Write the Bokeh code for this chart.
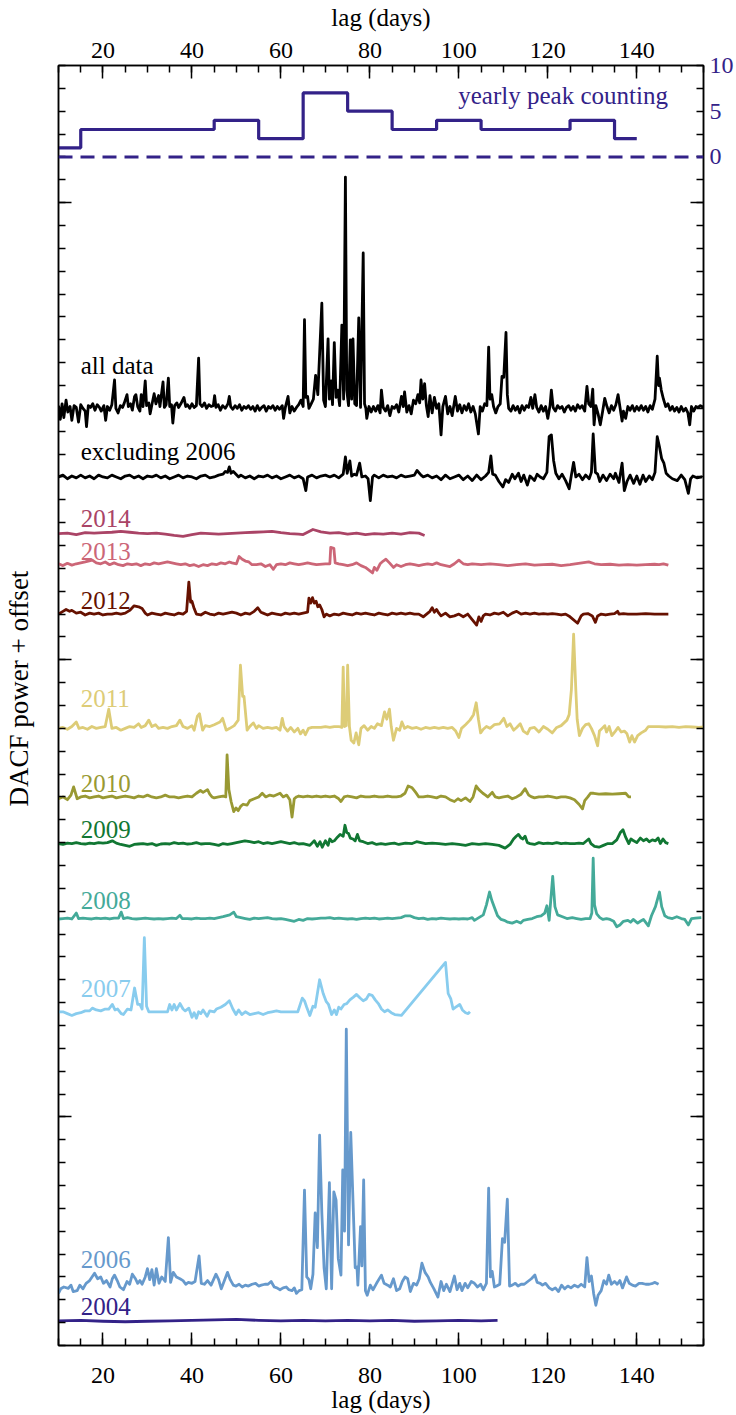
import math
from bokeh.plotting import figure
from bokeh.models import Range1d, LinearAxis, FixedTicker, Label, Span
from bokeh.embed import file_html
from bokeh.resources import INLINE

FONT = "Liberation Serif"

# ---------------- data ----------------
# yearly peak counting (bin centre lag, count)
peak_lag = [10, 20, 30, 40, 50, 60, 70, 80, 90, 100, 110, 120, 130, 140]
peak_cnt = [1, 3, 3, 3, 4, 2, 7, 5, 3, 4, 3, 3, 4, 2]

# DACF curves: (lag, power) in plot units
all_data = [(10,0.3),(10.4,-1.2),(10.8,0.5),(11.2,-1.0),(11.7,0.9),(12.1,-0.4),(12.6,0.2),(13,-1.3),(13.5,0.3),(14,0.1),(14.5,-1.5),(15,0.4),(15.5,0),(16,-0.3),(16.3,-2.0),(16.7,0.3),(17.2,0.1),(17.7,0.5),(18.2,-0.2),(18.7,0.4),(19.2,0.1),(19.6,-0.3),(20.2,0.3),(20.6,-1.3),(21,0.2),(21.5,-0.2),(22,0.4),(22.6,3.1),(22.9,0),(23.4,-0.5),(23.9,0.3),(24.4,0.1),(24.8,0.6),(25.4,1.5),(25.7,0.2),(26.2,0.5),(26.6,-0.2),(27.1,1.3),(27.4,1.5),(27.8,0.2),(28.3,-0.3),(28.6,1.5),(29,0.2),(29.5,3.0),(29.8,0.3),(30.3,0.6),(30.6,-0.6),(31,0.4),(31.5,1.6),(31.9,0.5),(32.5,1.4),(32.8,0.2),(33.5,2.9),(33.8,0.1),(34.2,0.4),(34.7,3.3),(35,0.2),(35.4,0.4),(35.7,-1.6),(36.1,0.3),(36.6,0.6),(37,0.1),(37.5,0.5),(38.2,1.2),(38.6,0.2),(39,0.4),(39.5,0),(40,0.5),(40.5,0.1),(41,0.3),(41.5,5.5),(41.8,0.5),(42.3,0.2),(42.8,0.6),(43.3,0),(43.8,0.4),(44.3,0.2),(44.8,0.3),(45.1,1.4),(45.4,0.1),(45.9,0.4),(46.4,-0.2),(46.9,0.3),(47.5,0),(48.1,0.5),(48.4,1.3),(48.7,0.2),(49.2,-0.1),(49.7,0.3),(50.2,0),(50.7,0.4),(51.2,-0.2),(51.7,0.2),(52.2,0),(52.7,0.3),(53.2,-0.1),(53.7,0.2),(54.2,-0.3),(54.7,0.3),(55.2,-0.2),(55.7,0.1),(56.2,0.3),(56.7,-0.3),(57.2,0.2),(57.7,0),(58.2,0.3),(58.7,-0.2),(59.2,0.2),(59.7,-0.1),(60.3,0.3),(60.6,-1.1),(61,0.1),(61.6,1.3),(62,-0.5),(62.5,0.2),(63,-0.3),(63.5,0.1),(64,0.4),(64.5,0.9),(65,0.2),(65.3,9.7),(65.6,1.2),(66,1.3),(66.3,0),(66.8,0.5),(67.3,1.0),(67.8,3.6),(68.3,1.5),(69.2,11.5),(69.6,0.9),(70,0.2),(70.6,7.6),(70.9,1.0),(71.3,3.0),(71.6,0.4),(72,7.2),(72.4,1.2),(72.8,2.0),(73.2,0.3),(73.7,9.1),(74.1,1.0),(74.5,25.3),(74.8,2.0),(75.2,0.3),(75.6,7.5),(75.9,1.0),(76.2,7.6),(76.6,0.5),(77,0.3),(77.5,9.9),(77.9,0.1),(78.5,17),(78.8,0.5),(79.1,0),(79.3,-1.1),(79.8,0.2),(80.3,-0.4),(80.8,0.2),(81.3,-0.3),(81.8,0.3),(82.3,-0.5),(82.6,2.0),(83,0.1),(83.5,-0.3),(84,0.3),(84.5,-0.8),(85,0.2),(85.5,0),(86,0.4),(86.5,-0.4),(87.1,1.3),(87.5,0.2),(87.8,1.8),(88.3,-0.4),(88.8,0.3),(89.3,-0.6),(89.8,0.9),(90.3,0.5),(90.8,1.5),(91.2,0.6),(91.5,3.1),(91.9,1.0),(92.3,2.7),(92.7,0.3),(93.1,-0.9),(93.5,1.4),(94,-0.5),(94.5,1.2),(95,0),(95.5,0.5),(96,-2.9),(96.4,0.2),(97,1.3),(97.5,-0.6),(98,0.2),(98.5,-0.8),(99.2,1.3),(99.7,-0.3),(100.2,0.4),(100.7,-0.5),(101.2,0.3),(101.7,-0.2),(102.2,0.5),(102.7,-0.4),(103.2,0.2),(103.7,-0.6),(104.4,-2.8),(104.8,0.2),(105.3,-0.3),(105.8,0.5),(106.3,0.3),(106.7,6.7),(107,1.0),(107.4,1.5),(107.8,0.2),(108.3,-0.5),(108.8,0.2),(109.3,0.5),(109.7,3.5),(110.1,3.4),(110.6,8.3),(110.9,1.5),(111.2,0),(111.7,-0.3),(112.2,0.3),(112.7,-0.2),(113.2,0.2),(113.7,-0.5),(114.2,0.3),(114.7,-0.2),(115.2,0.3),(115.7,0.1),(116.2,1.2),(116.6,0),(117.1,1.5),(117.5,0.1),(118,-0.4),(118.5,0.3),(119,-0.3),(119.5,0.2),(120,-1.1),(120.5,0.3),(120.8,2.0),(121.2,0.1),(121.7,-0.3),(122.2,0.3),(122.7,0),(123.2,0.2),(123.7,-0.4),(124.2,0.1),(124.7,0.3),(125.2,-0.2),(125.7,0.2),(126.2,-0.3),(126.7,0.4),(127.2,0),(127.7,0.3),(128.3,-0.3),(128.8,2.4),(129.2,0.5),(129.7,0.2),(130.1,2.1),(130.4,-1.8),(130.8,0.3),(131.3,-0.6),(131.8,-1.8),(132.3,-0.4),(132.8,1.1),(133.3,0.2),(133.8,-0.5),(134.3,0.3),(134.8,-0.2),(135.3,0.4),(135.8,1.5),(136.2,0.2),(136.7,-1.4),(137,-0.3),(137.5,-1.1),(138,0.2),(138.5,-0.2),(139,0.3),(139.5,-0.3),(140,0.2),(140.5,-0.2),(141,0.3),(141.5,-0.2),(142,0.2),(142.5,-0.4),(143,0.3),(143.5,-0.1),(144.1,1.0),(144.6,5.7),(144.9,2.5),(145.1,3.3),(145.5,2.0),(146,1.0),(146.5,0.2),(147,0.5),(147.5,-0.2),(148,0.2),(148.5,-0.3),(149,0.1),(149.5,-0.4),(150,0.2),(150.5,-0.3),(151,0),(151.5,-0.5),(151.9,-1.8),(152.3,0.2),(152.8,-0.3),(153.3,0.2),(153.8,0.1),(154.3,0.3),(155,0.1)]

excl_2006 = [(10,0),(11,0.2),(12,-0.2),(13,0.1),(14,-0.1),(15,0.2),(16,-0.1),(17,0.1),(18,-0.2),(19,0.2),(20,0),(21,-0.1),(22,0.2),(23,0),(24,-0.2),(25,0.1),(26,0.2),(27,-0.1),(28,0.1),(29,-0.2),(30,0.1),(31,0),(32,0.2),(33,-0.1),(34,0.1),(35,-0.2),(36,0),(37,0.2),(38,-0.1),(39,0.1),(40,0),(41,-0.2),(42,0.1),(43,0.2),(44,-0.1),(45,0),(46,0.2),(47,0.3),(47.5,0.6),(48,0.5),(48.4,1.1),(48.8,0.4),(49.3,0.6),(49.9,0.3),(50.5,0),(51,0.2),(52,-0.1),(53,0.1),(54,-0.2),(55,0.1),(56,0),(57,0.2),(58,-0.1),(59,0.1),(60,-0.2),(61,0),(62,0.2),(63,-0.1),(64,0.1),(65,-0.2),(65.6,-1.5),(66,0),(67,0.2),(68,-0.1),(69,0.1),(70,0.2),(71,0),(72,0.2),(73,-0.1),(74,0.3),(74.5,2.2),(74.9,0.4),(75.5,1.75),(75.9,0.1),(76.5,0.3),(77,0.2),(77.7,1.5),(78.2,0),(79,0.1),(79.6,-0.2),(80.1,-2.6),(80.6,0),(81,0.2),(82,-0.1),(83,0.2),(84,0),(85,0.1),(86,-0.1),(87,0.2),(88,0),(89,0.1),(90,0.2),(90.6,0.7),(91.5,0.2),(92,0),(93,0.2),(94,-0.1),(95,0.1),(96,-0.3),(97,0.2),(98,-0.2),(99,0),(100,0.2),(101,-0.3),(102,0.1),(103,-0.4),(104,0.2),(105,-0.3),(106,0.1),(106.7,0.5),(107.2,2.3),(107.6,0.3),(108.2,0.2),(109,-0.5),(109.9,-1.1),(110.5,-0.3),(111.2,-0.6),(112,0.3),(112.6,-0.2),(113.4,0.4),(114,-0.5),(114.6,0.2),(115.4,-0.9),(116,0.1),(117,-0.4),(117.6,0.3),(118.3,0),(119,-0.2),(119.8,0.5),(120.3,4.4),(120.8,4.6),(121.3,1.8),(121.8,0.4),(122.5,-0.2),(123.2,0.3),(124,-0.4),(124.8,-1.3),(125.3,0.2),(125.8,1.6),(126.3,0),(127,0.3),(127.8,-0.3),(128.5,0.2),(129.3,-0.2),(129.8,0.5),(130.2,4.7),(130.7,0.5),(131.2,0.3),(131.7,-0.5),(132.4,0.2),(133.2,-0.4),(134,0.3),(134.8,-0.2),(135.2,0.4),(136,-0.6),(136.7,1.5),(137.2,-1.5),(137.8,-0.5),(138.5,0.2),(139.3,-0.7),(140,0.1),(140.7,-0.8),(141.4,0.2),(142,-0.5),(142.8,0.1),(143.5,-0.3),(144.1,0.5),(144.6,4.4),(145.1,3.3),(145.6,2.0),(146.1,1.5),(146.6,0.4),(147.2,0.1),(148,-0.2),(149.1,-0.4),(150,0.2),(150.8,-0.3),(151.6,-1.8),(152.1,-0.2),(152.6,0.1),(153.5,-0.1),(154.7,0)]

y2014 = [(10,0),(12,0.05),(14,-0.1),(16,0.1),(18,0.05),(20,0.1),(22,0.15),(24,0.25),(26,0.15),(28,0.05),(30,0),(32,0.05),(34,-0.05),(36,-0.2),(38,-0.3),(40,-0.1),(42,0.05),(44,0),(46,-0.05),(48,0),(50,0.05),(52,0.1),(54,0.15),(56,0.2),(58,0.25),(60,0.1),(62,0.0),(64,-0.05),(65,-0.1),(67.2,0.45),(69,0.2),(71,0.05),(73,0.1),(75,-0.05),(77,0.05),(79,-0.1),(81,0),(83,-0.05),(85,0.05),(87,-0.05),(89,0.1),(91,0.05),(92.3,-0.2)]

y2013 = [(10,0.1),(11,-0.1),(12,0.15),(13,-0.05),(14,0.1),(15,0.2),(16,0.3),(17.6,0.5),(18.5,0.2),(19.5,0.1),(20.5,0.3),(21.5,0),(22.5,0.2),(23.5,0),(24.5,-0.1),(25.5,0.1),(26.5,0),(27.5,0.1),(28.5,-0.1),(29.5,0.1),(30.5,0),(31.5,0.2),(32.5,0.1),(34.5,0.3),(35.5,0.2),(36.5,0.1),(37.5,0),(38.5,0.1),(39.5,-0.1),(40.5,0),(41.5,-0.2),(42.5,0),(43.5,-0.1),(44.5,0.1),(45.5,0),(46.5,0.2),(47.5,0.1),(48.4,0.3),(49,0.2),(50,0.1),(50.6,0.9),(51.3,0.6),(52,0.4),(52.8,0.3),(53.5,0),(54.5,0),(55.5,0.1),(56.5,-0.2),(57.5,0),(58.3,-0.5),(59,0),(60,0.1),(61,0),(62,0.2),(63,0.1),(64,0),(65,0.1),(66,0.2),(67,0.1),(68,0),(70,0.1),(71,0.1),(71.2,1.9),(71.9,1.8),(72.2,0.2),(73,0.1),(74,0),(75,-0.1),(76,0),(77,0.2),(78,-0.1),(79,-0.3),(79.8,-0.6),(80.6,-0.9),(81,-0.3),(81.6,-0.6),(82.3,0.1),(83,0.4),(83.6,0.6),(84.4,0.2),(85.3,-0.3),(86,0),(87,-0.2),(88,0),(89,0.1),(90,0),(91,-0.1),(92,0),(93,0.1),(94,0),(95,0.2),(96,0),(97,-0.1),(98,-0.2),(99,0.1),(100,0.5),(100.5,0.3),(101,0.1),(102,0),(103,0.1),(105,0),(107,0.1),(109,0),(111,-0.1),(113,0),(115,0.1),(117,-0.05),(119,0),(121,0.05),(123,-0.1),(125,0),(129.2,0.3),(130.5,0.1),(132,0),(134,0.05),(136,-0.05),(138,0),(140,-0.05),(142,0),(144,0.05),(145,0),(146,0.1),(147.1,-0.05)]

y2012 = [(10,0),(11,0.3),(11.7,0.5),(12.5,0.3),(13,0.4),(14,0.1),(15,0.2),(16,-0.1),(17,0.1),(18,0),(19,0.1),(20,-0.1),(21,0),(22,0),(23,0.1),(24,0),(25,0.1),(26,0.4),(27,0.9),(28,0.8),(28.8,0.6),(29.5,0.1),(30,-0.1),(31,0.1),(32,0),(33,-0.1),(34,0.1),(35,0),(36,-0.1),(37,0.1),(38,0),(38.8,0.3),(39.3,3.5),(39.7,1.3),(40,1.4),(40.5,0.6),(41,0),(42,-0.1),(43,0.2),(44,0),(45,-0.1),(46,0.1),(47,0),(48,0.1),(49,0.2),(50,0.1),(51,-0.1),(52,0.1),(53,0),(54,0.3),(54.8,0.7),(55.5,0.2),(56,0.1),(57,-0.1),(58,0.1),(59,0),(60,-0.1),(61,0.1),(62,0),(63,0.1),(64,0),(65,0.1),(66,0.2),(66.3,1.75),(66.7,1.2),(67.1,1.8),(67.5,1.2),(67.9,1.4),(68.3,0.8),(68.7,1.0),(69.2,0.5),(69.7,-0.3),(70.2,0),(71,-0.2),(72,0),(73,-0.1),(74,0.1),(75,0),(76,-0.1),(77,0.1),(78,0),(79,0.1),(80,0),(81,-0.1),(82,0.1),(83,0),(84,-0.1),(85,0.1),(86,0),(87,0.1),(88,0),(89,0.1),(90,0),(91,0),(92,-0.3),(93.5,0.3),(94,0.7),(94.5,0.2),(95,0.5),(95.5,0.1),(96,-0.2),(97,0.1),(98,-0.3),(99,-0.2),(100,0),(101,-0.3),(102,0),(103,-0.6),(104,-1.2),(104.5,-0.3),(105,-0.8),(105.5,-0.2),(106,0),(107,-0.1),(108,0.1),(109,0),(110,0.2),(111,-0.2),(112,0.1),(113,0.3),(114,0),(115,0.1),(116,0),(117,0.1),(118,0),(119,0.05),(120,0),(121,0.05),(122,0),(123,-0.1),(124,0),(125,-0.3),(126.7,-1.0),(127.5,-0.2),(128,0),(129,0.05),(130,-0.2),(130.7,-0.9),(131.2,-0.2),(132,0),(133,-0.1),(134,0),(135,0.05),(135.7,0.3),(136,0),(137,0.05),(138,0),(140,0),(142,0.05),(144,0),(146,0),(147.1,0)]

y2011 = [(10,0),(11,0.1),(12,-0.1),(13,0.2),(14,0.7),(14.6,0),(15.5,0.1),(16.5,-0.1),(17.5,0.2),(18.5,0),(19.5,0.1),(20.5,0.2),(21.3,2.1),(22,0),(23,0.1),(24,-0.2),(25,0),(26,0.2),(27,0.1),(28,0.5),(28.6,0.1),(29.5,0.3),(30.3,0.9),(31,0.2),(31.8,0.4),(32.5,0),(33.5,0.1),(34.5,0),(35.5,0.2),(36.5,0.3),(37.3,0.9),(38,0.2),(39,0),(40,0.3),(40.5,-0.2),(41.2,1.3),(41.7,1.6),(42.4,-0.2),(43,0.3),(44,0.2),(45,0.4),(46.3,0.7),(46.9,1.1),(47.7,-0.2),(48.5,0),(49.5,0.3),(50.4,0.9),(50.9,6.9),(51.4,3.5),(51.7,3.5),(52.4,-0.2),(53,0.2),(53.8,0.6),(54.5,0),(55,0.3),(56,0),(57,0.1),(58,0),(59,0.1),(59.8,-0.2),(60.3,1.1),(60.7,0.2),(61.5,-0.3),(62.2,0.1),(63,-0.4),(63.8,0),(64.4,-0.6),(65,-0.2),(65.5,-0.7),(66.2,0),(67,0.1),(68,0.1),(69,0.1),(70,0.2),(71,0.1),(72,0.2),(73,0.2),(73.7,0.1),(74,6.7),(74.3,0.2),(74.7,0.3),(75,6.9),(75.4,0.2),(75.8,-1.3),(76.4,-1.6),(76.9,-0.5),(77.5,-1.8),(78,0),(78.7,0.3),(79.5,-0.2),(80.3,0.2),(81,0),(81.7,0.5),(82.6,0.3),(83.3,1.8),(83.8,1.0),(84.4,2.1),(84.8,0.2),(85.3,-1.3),(86,0),(86.7,-0.2),(87.2,0.7),(87.8,0),(88.5,0.2),(89.5,0),(90.5,0.1),(91.5,-0.1),(92.5,0.1),(93.5,0),(94.5,0.1),(95.5,0),(96.5,0.1),(97.5,0),(98.5,0.1),(99.3,-0.3),(100,-1.0),(100.6,0),(101.5,0.4),(102.5,0.9),(103.3,1.5),(103.9,2.8),(104.4,1.0),(104.9,-0.5),(105.5,-0.1),(106.2,0.2),(107,0),(108,0.4),(109.2,0.5),(110.1,1.1),(110.8,0.2),(111.5,0.5),(112.3,-0.2),(113,0.1),(113.8,0.5),(114.5,-0.3),(115.4,-0.6),(116,0),(117,0.1),(118,-0.4),(119,0.2),(120,-0.1),(121,-0.5),(122,0.1),(123,0.3),(124.3,0.9),(124.8,1.5),(125.3,4.2),(125.8,10.3),(126.3,4.2),(126.6,1.0),(127.1,-0.8),(127.8,0),(128.5,0.4),(129.2,0.5),(129.8,0),(130.5,-0.8),(131.2,-1.9),(131.6,-0.3),(132.2,0),(132.8,0.3),(133.2,-0.4),(133.8,0.2),(134.4,-0.8),(135.2,-0.3),(135.8,0.1),(136.5,-0.4),(137.2,-0.3),(137.8,-0.6),(138.4,-1.5),(138.9,-0.8),(139.5,-1.5),(140.2,-0.8),(141,-0.5),(142,-0.2),(142.6,0.2),(143.6,0.2),(145,0.2),(146.5,0.15),(148,0.2),(149.5,0.1),(151,0.2),(152.5,0.15),(154,0.1),(155,0.15)]

y2010 = [(10,-0.2),(11,0),(12,-0.3),(12.8,0.2),(13.4,1.1),(14.2,-0.2),(15,0),(16,0.1),(17,-0.1),(18,0),(19,0.1),(20,-0.1),(21,0),(22,0.1),(23,-0.1),(24,0),(25,0.1),(26,0),(27,-0.1),(28,0.1),(29,0),(30,0.2),(31,0),(32,-0.1),(33,0),(34,0.2),(35,0),(36,0),(37,-0.1),(38,0),(39,0.1),(40,0),(41,0.4),(41.9,0.7),(42.5,0.5),(43.5,0.8),(44,0.3),(44.5,0),(45,-0.1),(46,0),(47,0.1),(47.6,0),(47.9,4.6),(48.3,0.8),(48.8,-0.5),(49.4,-1.6),(49.9,-1.2),(50.4,-1.5),(51,-1.0),(51.5,-0.8),(52.4,-0.9),(53,-0.4),(54,-0.2),(55,0),(55.8,0.4),(56.6,0),(57.5,0.2),(58.4,0.1),(59.3,0.3),(59.8,0.4),(60.5,0),(61.3,0.2),(62,-0.3),(62.5,-2.2),(63,-0.2),(63.5,0),(64,0.1),(65,0),(66,0.1),(67,0),(68,0.1),(69,0),(70,0.1),(71,0),(72,0.1),(73,-0.2),(73.5,-0.5),(74.2,0),(75,0.1),(76,0),(77,-0.1),(78,0.1),(79,0),(80,0),(81,0.1),(82,0),(83,0),(84,0.1),(85,0),(86,0),(87,0.1),(87.9,0.4),(88.6,1.2),(89.5,1.0),(90.3,0.5),(91,0),(92,0),(93,0.1),(94,0),(95,-0.1),(96,0.1),(97,0),(98,-0.3),(99,-0.5),(99.8,-0.2),(100.5,-0.4),(101.5,-0.1),(102.5,-0.5),(103.2,0),(103.9,1.2),(104.5,0.8),(105.4,0.4),(106,0.2),(106.5,0),(107.5,0.5),(108.2,0),(109,-0.1),(110,0),(111,0.1),(112,-0.2),(113,0),(114,0.3),(114.9,0.9),(115.7,0.2),(116.4,0),(117,-0.1),(118,0),(119,0),(120,0.1),(121,0),(122,-0.1),(123,0),(124,0),(125,-0.1),(126,-0.3),(127,-0.8),(127.8,-1.3),(128.3,-0.4),(129,0),(129.6,0.4),(130.3,0.4),(131.5,0.3),(133,0.35),(134.5,0.3),(136,0.35),(137.5,0.4),(138.2,0),(138.7,0)]

y2009 = [(10,0),(11,-0.1),(12,0.05),(13,0),(14,0.1),(15,0),(16,-0.05),(17,0.05),(18,0),(19,0.1),(20,0.05),(21,0.1),(22.1,0.3),(23,0.05),(24,-0.1),(25,-0.2),(26,-0.3),(27,-0.1),(28,-0.05),(29,0),(30,-0.1),(31,0),(32,-0.2),(33,-0.05),(34,0),(35,-0.05),(36,0.1),(37,0),(38,0.05),(39,-0.05),(40,0),(41,0.1),(42,-0.05),(43,0),(44,0),(45,-0.1),(46,-0.2),(47,0),(48,-0.1),(49,0),(50,0.1),(51.9,0.3),(53,0.2),(54,0.1),(55,0.2),(56,0),(57,0.1),(58,0),(59,0.1),(60,0.2),(61,0.1),(62,0),(63,0.1),(64,-0.05),(65,0),(66.5,-0.2),(67.5,0.3),(68.2,-0.3),(68.8,0.2),(69.3,-0.4),(70,0.3),(70.6,-0.2),(71,0.5),(71.5,0.2),(72,0.3),(72.7,0.7),(73.3,1.0),(74,0.8),(74.4,2.0),(74.8,1.2),(75.2,1.1),(75.6,0.6),(76.2,0.5),(76.7,0.3),(77.2,1.0),(77.7,0.3),(78.5,0.2),(79.5,0),(80.5,0.1),(81.5,-0.1),(82.5,0),(83.5,-0.1),(84.5,0),(85.5,0.05),(86.5,-0.1),(88,0.05),(89.5,0),(90.5,0.2),(91.5,0.1),(92.5,0),(94,0.05),(95.5,0),(97,-0.1),(98.5,0),(100,-0.1),(101.5,-0.2),(103,0),(104.5,-0.1),(106,0),(107.5,-0.1),(109,-0.2),(110.4,-0.5),(111.5,-0.1),(112.3,0.5),(112.9,0.8),(113.4,1.0),(114,0.6),(114.4,0.5),(114.9,0.8),(115.4,0.1),(116,0),(117,-0.1),(118,0.1),(119,0),(120,0.05),(121,0),(122,0.1),(123,0),(124,0.05),(125,0),(126,0),(127,0.05),(128,0),(129.2,0.5),(129.7,0),(130.5,-0.3),(131.5,-0.4),(132.5,-0.2),(133.5,0),(134.5,0),(135.5,0.4),(136.3,1.2),(136.9,1.5),(137.5,0.7),(138.2,0),(138.7,0.5),(139.3,0.3),(140,0.1),(140.8,0.6),(141.5,0.3),(142.2,0.5),(142.8,0.2),(143.5,0.4),(144.2,0.3),(144.8,0.6),(145.3,0),(145.9,0.5),(146.5,0.1),(147.1,0)]

y2008 = [(10,-0.05),(11,0),(12,0.05),(13,-0.05),(14,0.6),(14.5,0),(15.5,0.05),(16.5,0),(17.5,-0.05),(18.5,0.05),(19.5,0),(20.5,0.05),(21.5,-0.05),(22.5,0.05),(23.5,0.05),(24.1,0.7),(24.6,0),(25.5,0.1),(26.5,0),(27.5,-0.05),(28.5,0),(29.5,0.05),(30.5,0),(31.5,-0.05),(32.5,0),(33.5,-0.05),(34.5,0),(35.5,0.05),(36.5,0),(37.3,0.35),(37.8,0),(39,0),(40,-0.05),(41,0.05),(42,0),(43,0),(44,0.05),(45,0),(46,0.1),(47,0.2),(48.5,0.4),(49.4,0.7),(50,0.2),(51,0.1),(52,0),(53,-0.1),(54,0.05),(55,0),(56,0.05),(57,0.1),(58,0),(59,-0.05),(60,0),(61,-0.1),(62,-0.2),(63,-0.3),(64,-0.1),(65,-0.2),(66,0),(67,-0.05),(68,0),(69,0.05),(70,0.05),(71,0.1),(72,0),(73,0.05),(74,0),(75,-0.05),(76,0),(77,-0.1),(78,0),(79,0.05),(80,0),(81,0.05),(82,-0.05),(83,0),(84,0.05),(85,0),(86,0.05),(87,0.1),(88,0.3),(89,0.3),(90,0.1),(91,0),(92,0.05),(93,-0.1),(94,0),(95,-0.05),(96,0.05),(97,0),(98,-0.05),(99,0),(100,-0.05),(101,0),(102,-0.05),(103,0.1),(103.5,-0.2),(104.5,0.1),(105.5,0.4),(106.2,1.5),(106.9,2.9),(107.4,2.0),(108,1.2),(108.7,0.3),(109.5,-0.1),(110.2,-0.2),(111,-0.4),(112,-0.5),(113,-0.3),(113.9,-0.5),(114.5,-0.2),(115.5,-0.1),(116.5,0),(117.5,0.2),(118.5,0.3),(119.3,0.6),(119.8,1.4),(120.3,-0.2),(120.7,2.2),(121.1,4.6),(121.6,1.3),(122.2,0.4),(123.3,0.2),(124.3,0),(125.5,0.1),(126.5,0),(127.5,-0.1),(128.5,0),(129.5,0),(129.9,0.6),(130.2,6.6),(130.5,1.5),(131,0.5),(131.7,0.1),(132.4,-0.1),(133.2,0),(134,-0.1),(134.8,-0.3),(135.5,-0.9),(136.2,-0.7),(137,-0.3),(138,-0.2),(138.6,-0.4),(139.2,-0.1),(140.2,-0.5),(140.8,-0.3),(141.5,-0.1),(142.6,-0.8),(143.3,0.3),(144.2,1.3),(145.1,2.9),(145.6,1.3),(146.3,0.3),(147,0.1),(148,0),(149,0.2),(150,0),(150.8,-0.1),(151.6,-0.7),(152.3,0),(153.2,0.05),(154.5,0.1)]

y2007 = [(10,0),(11,0),(12,-0.2),(13,-0.4),(14,-0.2),(15,-0.1),(16,0.1),(17,0.1),(17.6,0.4),(18.5,0.2),(19.5,0.1),(20.5,0.3),(21.3,0.3),(22.1,0.8),(22.7,0.2),(23.3,0.3),(24.1,-0.2),(24.6,-0.3),(25.5,0.3),(26.3,0.2),(27.1,2.6),(27.8,0.8),(28.3,0.8),(28.8,0.3),(29.3,8.1),(29.8,0.6),(30.3,0),(31,0),(32,0),(33,0),(34,0),(34.5,0),(35,0.8),(35.5,0.2),(36,0.8),(36.5,0.2),(37.3,0.9),(38,0.3),(38.5,0.1),(39.3,0.4),(40,-0.6),(40.5,-0.1),(41,-0.7),(41.5,0),(42,-0.2),(42.5,0.2),(43.4,-0.5),(44,0.1),(45,0),(45.5,0.3),(46.5,0.5),(47.5,0.8),(48.4,1.2),(49.2,0.3),(49.9,-0.3),(50.5,0.2),(51.2,-0.3),(52,0),(53,-0.3),(54,-0.2),(55,-0.1),(56,-0.3),(57,-0.1),(58,0),(59,0.1),(60,0),(61,0),(62,0),(63,0),(63.8,0),(64.8,1.5),(65.3,1.2),(65.8,0.5),(66.5,-0.4),(67.2,0.6),(67.7,0.5),(68.7,3.5),(69.5,2.0),(70.2,1.1),(70.7,0.8),(71.4,-0.3),(72,0.2),(72.5,-0.3),(73,0.5),(73.5,0.3),(74.2,0.8),(74.8,0.9),(75.5,1.3),(76.3,1.6),(77,1.9),(77.8,1.5),(78.5,1.2),(79.2,1.4),(79.8,1.9),(80.5,1.8),(81.2,1.3),(81.9,0.9),(82.6,0.3),(83.3,0),(84,0.2),(84.8,-0.1),(85.6,-0.3),(87.1,-0.4),(97,5.4),(97.6,2.0),(98.2,1.4),(98.7,0.3),(99.3,0.5),(100.2,0.8),(100.8,0.2),(101.5,-0.1),(102.1,-0.2),(102.5,0)]

y2006 = [(10,-0.8),(10.5,-0.3),(11.2,-0.1),(12.2,-0.25),(12.8,0.1),(13.3,-0.6),(14.2,-0.5),(14.8,0.1),(15.5,-0.3),(16.2,0.3),(17,0.6),(18.1,1.4),(18.8,0.8),(19.5,1.0),(20.1,0.3),(20.8,0.6),(21.6,-0.1),(22.1,0.8),(22.6,1.2),(23.2,0.6),(23.8,-0.1),(24.6,-0.4),(25.4,0.5),(26,0.2),(26.6,1.3),(27.3,0.8),(27.8,0.3),(28.3,0.6),(28.8,0.2),(29.5,1.0),(30,1.9),(30.5,0.7),(31,1.8),(31.5,0.1),(32,1.9),(32.6,0.3),(33.2,1.0),(34,0.5),(34.7,5.3),(35.2,0.4),(35.8,1.5),(36.5,1.0),(37.3,0.8),(38,0.6),(38.6,0.2),(39.2,0.4),(40,0.3),(40.7,0.5),(41.6,3.3),(42.1,0.3),(42.8,0.2),(43.5,0.6),(44.3,0.1),(45.4,1.3),(46,0.7),(46.6,-0.3),(47.3,0.6),(48,1.5),(48.6,0.7),(49.3,0.1),(49.9,0),(50.6,0.2),(51.3,-0.1),(52,0.1),(52.7,0),(53.5,0.2),(54.3,0.3),(55,0),(55.6,0.1),(56.4,0.2),(57.1,0.2),(57.8,0.5),(58.5,-0.1),(59.1,-0.2),(59.8,-0.4),(60.5,-0.2),(61.2,-0.1),(61.8,-0.4),(62.5,-0.5),(63,-0.2),(63.5,-0.8),(64.1,-0.5),(64.7,-0.4),(65.3,10.5),(65.8,1.0),(66.3,0.7),(66.7,-0.3),(67.2,1.3),(67.7,8.0),(68.2,4.2),(68.7,16.5),(69.2,8.0),(69.7,2.0),(70.2,-0.3),(70.9,11.3),(71.4,-0.3),(71.9,10.3),(72.4,9.4),(72.9,3.0),(73.5,1.2),(73.9,12.7),(74.3,6.0),(74.7,28.1),(75.2,4.5),(75.7,16.8),(76.2,9.4),(76.7,2.0),(77.1,2.1),(77.3,0.1),(77.9,6.5),(78.2,2.2),(78.6,11.6),(79.0,-0.5),(79.4,-1.0),(80.1,0.1),(80.7,-0.4),(81.5,0.3),(82.6,1.2),(83.2,0.3),(84,0.1),(84.6,-0.1),(85.3,0.8),(86,-0.5),(86.7,-0.3),(87.3,0.5),(87.9,1.0),(88.5,0.8),(89.1,-0.6),(89.8,0.3),(90.5,0.1),(91.1,0.8),(91.7,2.5),(92.4,1.5),(93.1,1.0),(93.6,0.4),(94.4,-0.3),(95.3,-1.2),(96,0.5),(96.6,-0.5),(97.2,0.2),(98,-0.6),(98.6,0.4),(99,1.1),(99.6,-0.4),(100.2,0.3),(100.7,-0.5),(101.4,0.3),(102,-0.2),(102.8,0.5),(103.5,0.3),(104.2,-0.1),(104.9,0.2),(105.5,-0.4),(106.2,0.3),(106.7,10.7),(107.1,1.0),(107.5,1.6),(108,-0.1),(108.5,0),(109.2,0.2),(109.8,5.2),(110.3,4.8),(110.9,9.5),(111.4,0),(112,0.1),(112.7,0.3),(113.3,0),(114,0.2),(114.7,0.2),(115.5,0.5),(116.3,0.8),(117.1,1.2),(117.6,0.4),(118.3,0.3),(118.8,0.1),(119.5,0.3),(120.3,-0.2),(121,-0.4),(121.7,-0.2),(122.4,-0.6),(123.1,0.1),(123.8,-0.3),(124.5,0),(125.2,-0.2),(126,0.1),(126.8,-0.1),(127.5,0.2),(128.3,-0.1),(128.8,3.1),(129.3,0.5),(129.8,1.1),(130.3,-0.8),(130.8,-2.1),(131.3,-1.0),(132,-0.5),(132.6,0.6),(133.2,0.2),(133.7,1.2),(134.3,0.2),(135,0.5),(135.6,0.2),(136.2,0.6),(136.8,-0.2),(137.7,1.0),(138.3,0.3),(139,0.1),(139.7,0),(140.5,0.3),(141.2,0.3),(142,0.2),(142.8,0.2),(143.6,0.3),(144.1,0.4),(144.9,0.2)]

y2004 = [(10,0),(15,0.05),(20,-0.05),(25,-0.1),(30,-0.05),(35,0),(40,0.05),(45,0.1),(50,0.15),(55,0.05),(60,0),(65,0.05),(70,0),(75,0.05),(80,0),(85,0.05),(90,-0.05),(95,0),(100,0.05),(105,0),(108.7,0.05)]

# series: name, data, vertical offset, colour, label y
series_names = ["all data", "excluding 2006", "2014", "2013", "2012", "2011",
                "2010", "2009", "2008", "2007", "2006", "2004"]
series_data = [all_data, excl_2006, y2014, y2013, y2012, y2011,
               y2010, y2009, y2008, y2007, y2006, y2004]
series_offset = [-27.5, -35.0, -41.2, -44.6, -50.0, -62.5,
                 -70.0, -75.1, -83.3, -93.5, -123.5, -127.3]
series_color = ["#000000", "#000000", "#AA4466", "#CC6677", "#661100", "#DDCC77",
                "#999933", "#117733", "#44AA99", "#88CCEE", "#6699CC", "#332288"]
label_y = [-22.8, -32.2, -39.5, -43.2, -48.5, -59.2,
           -68.5, -73.6, -81.3, -90.9, -120.6, -125.7]

x_major = [20, 40, 60, 80, 100, 120, 140]
right_labels = [0, 5, 10]
y_major = [-105, -55, -5]

# ---------------- figure ----------------
p = figure(width=736, height=1415,
           x_range=Range1d(10, 155), y_range=Range1d(-130, 10),
           output_backend="svg", toolbar_location=None,
           x_axis_location=None, y_axis_location=None,
           min_border_left=57, min_border_right=31,
           min_border_top=65, min_border_bottom=70)
p.xgrid.grid_line_color = None
p.ygrid.grid_line_color = None
p.outline_line_color = "black"
p.outline_line_width = 1.5
p.background_fill_color = "white"
p.border_fill_color = "white"

x_minor = [10 + 5 * i for i in range(30)]
y_minor = [-130 + 2.5 * i for i in range(57)]


def style(ax, standoff=5, tick_in=(13, 7)):
    ax.axis_line_color = "black"
    ax.axis_line_width = 1.5
    ax.major_tick_in = tick_in[0]
    ax.major_tick_out = 0
    ax.minor_tick_in = tick_in[1]
    ax.minor_tick_out = 0
    ax.major_tick_line_width = 1.5
    ax.minor_tick_line_width = 1.5
    ax.major_tick_line_color = "black"
    ax.minor_tick_line_color = "black"
    ax.major_label_text_font = FONT
    ax.major_label_text_font_size = "24px"
    ax.major_label_text_color = "black"
    ax.major_label_standoff = standoff
    ax.axis_label_text_font = FONT
    ax.axis_label_text_font_style = "normal"
    ax.axis_label_text_color = "black"
    ax.axis_label_text_font_size = "25px"


xb = LinearAxis(ticker=FixedTicker(ticks=x_major, minor_ticks=x_minor),
                axis_label="lag (days)")
style(xb, standoff=22)
xb.axis_label_standoff = 0
p.add_layout(xb, "below")

xt = LinearAxis(ticker=FixedTicker(ticks=x_major, minor_ticks=x_minor),
                axis_label="lag (days)")
style(xt, standoff=8)
xt.axis_label_standoff = 9
p.add_layout(xt, "above")

yl = LinearAxis(ticker=FixedTicker(ticks=y_major, minor_ticks=y_minor),
                axis_label="\u00a0\u00a0\u00a0\u00a0\u00a0DACF power + offset")
style(yl, standoff=0)
yl.major_label_overrides = {v: "" for v in y_major}
yl.axis_label_standoff = 25
yl.axis_label_text_font_size = "27px"
p.add_layout(yl, "left")

yr = LinearAxis(ticker=FixedTicker(ticks=y_major, minor_ticks=y_minor))
style(yr, standoff=0)
yr.major_label_overrides = {v: "" for v in y_major}
p.add_layout(yr, "right")

# right-hand scale for the yearly peak counting
yc = LinearAxis(ticker=FixedTicker(ticks=right_labels, minor_ticks=[]))
style(yc, standoff=6, tick_in=(0, 0))
yc.axis_line_color = None
yc.major_tick_line_color = None
yc.minor_tick_line_color = None
yc.major_label_text_color = "#332288"
yc.major_label_text_align = "left"
p.add_layout(yc, "right")

# yearly peak counting
p.add_layout(Span(location=0, dimension="width", line_color="#332288",
                  line_width=3, line_dash="14 8"))
p.step(peak_lag, peak_cnt, mode="center", line_color="#332288", line_width=3.2)
p.add_layout(Label(x=147, y=6.7, text="yearly peak counting", text_font=FONT,
                   text_font_size="25px", text_color="#332288",
                   text_align="right", text_baseline="middle"))

# DACF curves
for name, data, off, col, ly in zip(series_names, series_data, series_offset,
                                     series_color, label_y):
    lags = [d[0] for d in data]
    vals = [off + d[1] for d in data]
    p.line(lags, vals, line_color=col, line_width=2.8, line_join="round")
    p.add_layout(Label(x=15, y=ly, text=name, text_font=FONT,
                       text_font_size="25px", text_color=col,
                       text_align="left", text_baseline="middle"))

open("out.html", "w").write(file_html(p, INLINE))
